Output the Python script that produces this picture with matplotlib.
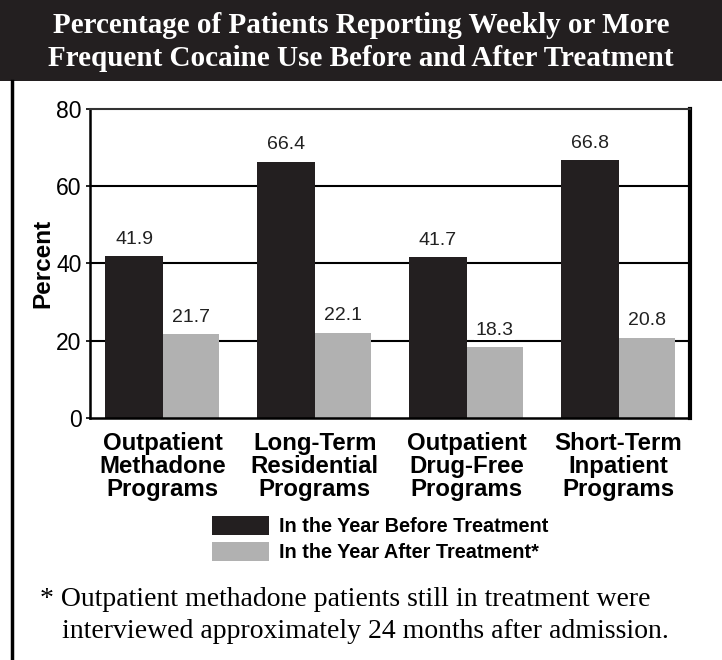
import matplotlib
matplotlib.use('Agg')
import matplotlib.pyplot as plt
from matplotlib.patches import Rectangle, Patch
from matplotlib.lines import Line2D
import numpy as np

# data
programs = ['Outpatient\nMethadone\nPrograms', 'Long-Term\nResidential\nPrograms',
            'Outpatient\nDrug-Free\nPrograms', 'Short-Term\nInpatient\nPrograms']
before = [41.9, 66.4, 41.7, 66.8]
after = [21.7, 22.1, 18.3, 20.8]
series = ['In the Year Before Treatment', 'In the Year After Treatment*']
yticks = [0, 20, 40, 60, 80]

title = ('Percentage of Patients Reporting Weekly or More\n'
         'Frequent Cocaine Use Before and After Treatment')
note1 = '* Outpatient methadone patients still in treatment were'
note2 = 'interviewed approximately 24 months after admission.'

dark = '#231f20'
gray = '#b1b1b1'
sans = 'Liberation Sans'
serif = 'Liberation Serif'

fig = plt.figure(figsize=(7.22, 6.60), dpi=100)

# dark title band and left panel border
fig.patches.append(Rectangle((0, 1 - 81 / 660), 1, 81 / 660, transform=fig.transFigure,
                             facecolor=dark, edgecolor='none', zorder=0))
fig.lines.append(Line2D([12 / 722, 12 / 722], [0, 1 - 81 / 660], transform=fig.transFigure,
                        color='black', lw=2.5))
fig.text(0.5, 1 - 42 / 660, title, ha='center', va='center', color='white',
         family=serif, weight='bold', fontsize=21, linespacing=1.3)

ax = fig.add_axes([90 / 722, 1 - 418 / 660, 600 / 722, 309 / 660])
x = np.arange(len(programs))
b1 = ax.bar(x, before, width=-0.38, align='edge', color=dark, zorder=2)
b2 = ax.bar(x, after, width=0.37, align='edge', color=gray, zorder=2)

for bars in (b1, b2):
    for r in bars:
        v = r.get_height()
        ax.annotate(f'{v:.1f}', (r.get_x() + r.get_width() / 2, v), xytext=(0, 6),
                    textcoords='offset points', ha='center', va='bottom',
                    family=sans, fontsize=14, color='#222222', zorder=3,
                    bbox=dict(facecolor='white', edgecolor='none', pad=1))

ax.set_ylim(0, 80)
ax.set_xlim(-0.48, 3.47)
ax.set_yticks(yticks)
ax.set_yticklabels([str(t) for t in yticks], family=sans, fontsize=16.5)
ax.tick_params(axis='y', length=3, width=1.2, pad=3)
ax.set_xticks(x)
ax.set_xticklabels(programs, family=sans, weight='bold', fontsize=17.3, linespacing=1.0)
ax.tick_params(axis='x', length=0, pad=10)
ax.set_ylabel('Percent', family=sans, weight='bold', fontsize=17.5, labelpad=1.5)

for y in yticks[1:-1]:
    ax.axhline(y, color='black', lw=1.5, zorder=1)

ax.spines['left'].set_linewidth(1.8)
ax.spines['bottom'].set_linewidth(1.8)
ax.spines['top'].set_linewidth(1.5)
ax.spines['top'].set_color('#333333')
ax.spines['right'].set_linewidth(3)

handles = [Patch(facecolor=dark), Patch(facecolor=gray)]
ax.legend(handles, series, loc='upper left', bbox_to_anchor=(0.203, -0.317),
          frameon=False, handlelength=2.9, handleheight=1.1, labelspacing=0.3,
          handletextpad=0.5, borderaxespad=0, borderpad=0,
          prop=dict(family=sans, weight='bold', size=14.3))

fig.text(40 / 722, 1 - 600 / 660, note1, ha='left', va='center', family=serif, fontsize=20)
fig.text(62 / 722, 1 - 632 / 660, note2, ha='left', va='center', family=serif, fontsize=20)

fig.savefig('out.png', dpi=100)
